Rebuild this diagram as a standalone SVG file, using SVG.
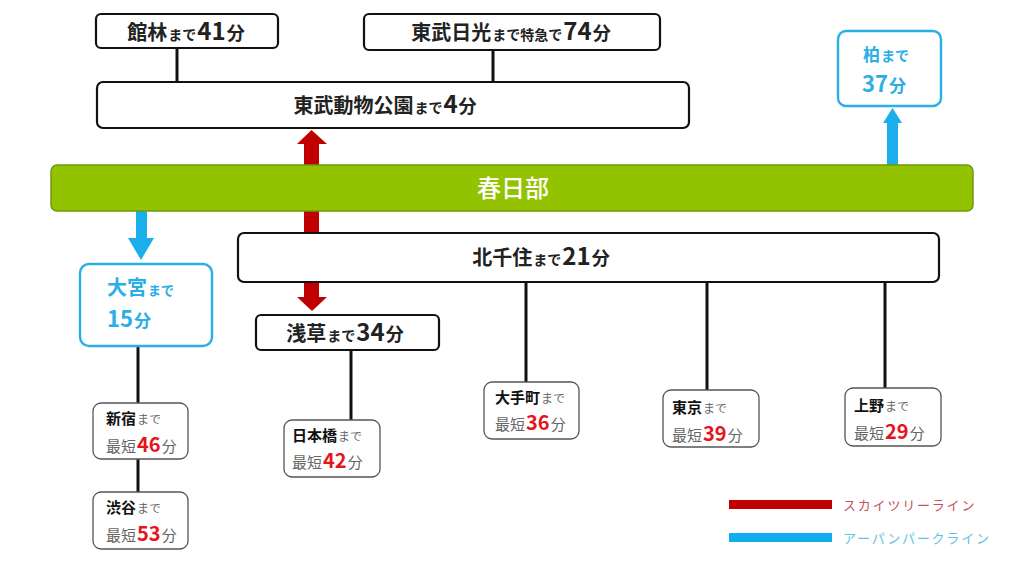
<svg xmlns="http://www.w3.org/2000/svg" width="1024" height="576" viewBox="0 0 1024 576">
<style>
text{font-family:"Noto Sans CJK JP","Noto Sans",sans-serif}
.box{fill:#fff;stroke:#111;stroke-width:2.2}
.sbox{fill:#fff;stroke:#555;stroke-width:1.3}
.bbox{fill:#fff;stroke:#2aaee6;stroke-width:2.4}
.ln{stroke:#111;stroke-width:3}
.t{font-weight:700;fill:#222}
.nm{font-weight:700;font-size:15px;fill:#111}
.g{fill:#666;font-size:12px}
.g2{fill:#666;font-size:15px}
.r{fill:#e8141c;font-weight:700;font-size:20px}
.bl{fill:#29aee6;font-weight:700}
</style>
<rect width="1024" height="576" fill="#fff"/>
<g id="connectors">
<line class="ln" x1="177" y1="48" x2="177" y2="82"/>
<line class="ln" x1="493" y1="50" x2="493" y2="82"/>
<line class="ln" x1="138" y1="346" x2="138" y2="403"/>
<line class="ln" x1="138" y1="459" x2="138" y2="492"/>
<line class="ln" x1="351" y1="350" x2="351" y2="420"/>
<line class="ln" x1="526" y1="282" x2="526" y2="382"/>
<line class="ln" x1="707" y1="282" x2="707" y2="390"/>
<line class="ln" x1="885" y1="282" x2="885" y2="388"/>
<g id="red-arrows" fill="#c00000">
<rect x="304" y="143" width="15" height="24"/>
<polygon points="297,144 311.5,130 327,144"/>
<rect x="304" y="210" width="15" height="25"/>
<rect x="304" y="280" width="15" height="18"/>
<polygon points="297,297 327,297 312,311"/>
</g>
<g id="blue-arrows" fill="#1aaeea">
<rect x="136" y="210" width="11" height="29"/>
<polygon points="128,238 154,238 141,260"/>
<rect x="887" y="122" width="11" height="45"/>
<polygon points="883,123 902,123 892.5,108"/>
</g>
</g>
<g id="tatebayashi"><rect class="box" x="96" y="14" width="182" height="34" rx="5"/>
<text x="186" y="40" text-anchor="middle" class="t"><tspan font-size="20">館林</tspan><tspan font-size="14" dx="1">まで</tspan><tspan font-size="24" dx="1">41</tspan><tspan font-size="18" dx="1">分</tspan></text></g>
<g id="nikko"><rect class="box" x="364" y="14" width="296" height="36" rx="5"/>
<text x="511" y="40" text-anchor="middle" class="t"><tspan font-size="20">東武日光</tspan><tspan font-size="14" dx="1">まで特急で</tspan><tspan font-size="24" dx="1">74</tspan><tspan font-size="18" dx="1">分</tspan></text></g>
<g id="dobutsukoen"><rect class="box" x="97" y="82" width="592" height="46" rx="6"/>
<text x="385" y="113" text-anchor="middle" class="t"><tspan font-size="20">東武動物公園</tspan><tspan font-size="14" dx="1">まで</tspan><tspan font-size="24" dx="1">4</tspan><tspan font-size="18" dx="1">分</tspan></text></g>
<g id="kasukabe"><rect x="51" y="165" width="922" height="46" rx="6" fill="#93c300" stroke="#6e9a0e" stroke-width="1.5"/>
<text x="513" y="197" text-anchor="middle" font-size="24" font-weight="500" fill="#fff">春日部</text></g>
<g id="kashiwa"><rect class="bbox" x="838" y="31" width="103" height="75" rx="8"/>
<text x="863" y="61" class="bl"><tspan font-size="17">柏</tspan><tspan font-size="14" dx="1">まで</tspan></text>
<text x="862" y="92" class="bl"><tspan font-size="22">37</tspan><tspan font-size="17" dx="1">分</tspan></text></g>
<g id="kitasenju"><rect class="box" x="238" y="233" width="701" height="49" rx="6"/>
<text x="541" y="265" text-anchor="middle" class="t"><tspan font-size="20">北千住</tspan><tspan font-size="14" dx="1">まで</tspan><tspan font-size="24" dx="1">21</tspan><tspan font-size="18" dx="1">分</tspan></text></g>
<g id="omiya"><rect class="bbox" x="80" y="264" width="132" height="82" rx="9"/>
<text x="107" y="295" class="bl"><tspan font-size="20">大宮</tspan><tspan font-size="13" dx="1">まで</tspan></text>
<text x="107" y="327" class="bl"><tspan font-size="22">15</tspan><tspan font-size="17" dx="1">分</tspan></text></g>
<g id="asakusa"><rect class="box" x="256" y="315" width="183" height="35" rx="5"/>
<text x="345" y="341" text-anchor="middle" class="t"><tspan font-size="20">浅草</tspan><tspan font-size="14" dx="1">まで</tspan><tspan font-size="24" dx="1">34</tspan><tspan font-size="18" dx="1">分</tspan></text></g>
<g id="shinjuku"><rect class="sbox" x="93" y="403" width="95" height="56" rx="8"/>
<text x="106" y="424"><tspan class="nm">新宿</tspan><tspan class="g" dx="1">まで</tspan></text>
<text x="106" y="452"><tspan class="g2">最短</tspan><tspan class="r" dx="1">46</tspan><tspan class="g2" dx="1">分</tspan></text></g>
<g id="shibuya"><rect class="sbox" x="93" y="492" width="95" height="57" rx="8"/>
<text x="106" y="513"><tspan class="nm">渋谷</tspan><tspan class="g" dx="1">まで</tspan></text>
<text x="106" y="541"><tspan class="g2">最短</tspan><tspan class="r" dx="1">53</tspan><tspan class="g2" dx="1">分</tspan></text></g>
<g id="nihonbashi"><rect class="sbox" x="284" y="420" width="96" height="57" rx="8"/>
<text x="292" y="441"><tspan class="nm">日本橋</tspan><tspan class="g" dx="1">まで</tspan></text>
<text x="292" y="468"><tspan class="g2">最短</tspan><tspan class="r" dx="1">42</tspan><tspan class="g2" dx="1">分</tspan></text></g>
<g id="otemachi"><rect class="sbox" x="484" y="382" width="95" height="57" rx="8"/>
<text x="495" y="403"><tspan class="nm">大手町</tspan><tspan class="g" dx="1">まで</tspan></text>
<text x="495" y="430"><tspan class="g2">最短</tspan><tspan class="r" dx="1">36</tspan><tspan class="g2" dx="1">分</tspan></text></g>
<g id="tokyo"><rect class="sbox" x="663" y="390" width="96" height="57" rx="8"/>
<text x="672" y="413"><tspan class="nm">東京</tspan><tspan class="g" dx="1">まで</tspan></text>
<text x="672" y="441"><tspan class="g2">最短</tspan><tspan class="r" dx="1">39</tspan><tspan class="g2" dx="1">分</tspan></text></g>
<g id="ueno"><rect class="sbox" x="845" y="388" width="96" height="58" rx="8"/>
<text x="854" y="411"><tspan class="nm">上野</tspan><tspan class="g" dx="1">まで</tspan></text>
<text x="854" y="439"><tspan class="g2">最短</tspan><tspan class="r" dx="1">29</tspan><tspan class="g2" dx="1">分</tspan></text></g>
<g id="legend">
<rect x="729" y="500" width="103" height="9" fill="#c00000"/>
<text x="843" y="510" font-size="13" fill="#c4505a" letter-spacing="1.8">スカイツリーライン</text>
<rect x="729" y="533" width="103" height="9" fill="#10aeee"/>
<text x="843" y="543" font-size="13" fill="#5cc3e0" letter-spacing="1.8">アーパンパークライン</text>
</g>
</svg>
